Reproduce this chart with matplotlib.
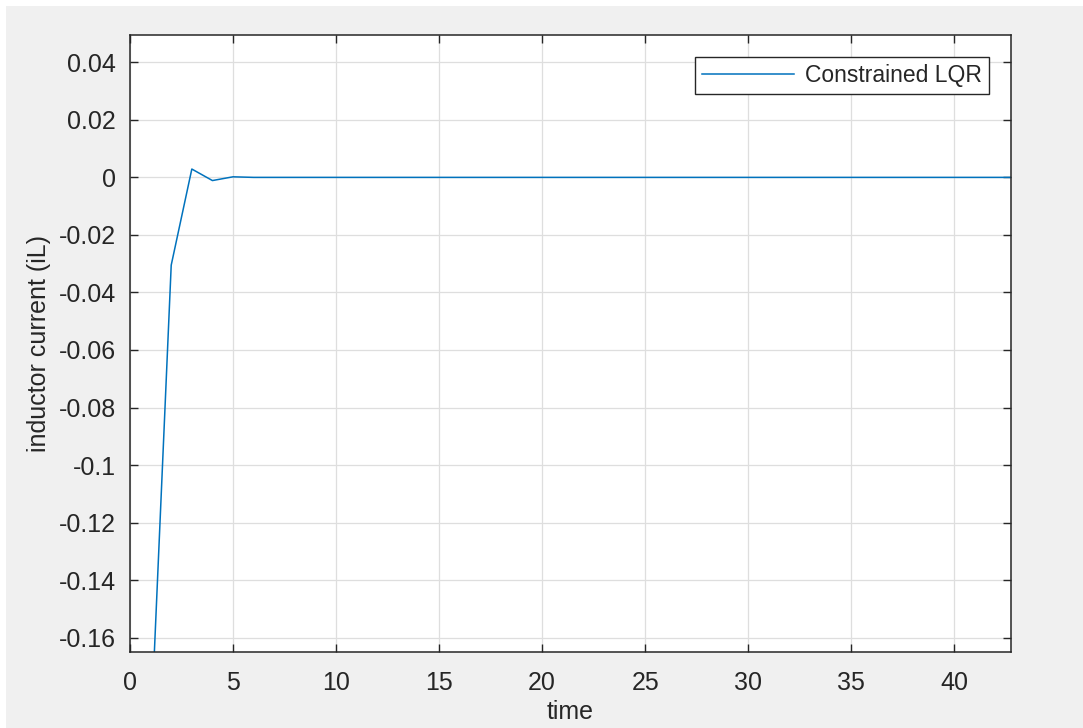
import matplotlib.pyplot as plt
from matplotlib.patches import Rectangle

# sample times and inductor current response
time = list(range(1, 44))
iL = [-0.195, -0.0305, 0.0029, -0.0011, 0.0002,
      0.0, 0.0, 0.0, 0.0, 0.0, 0.0, 0.0, 0.0, 0.0, 0.0,
      0.0, 0.0, 0.0, 0.0, 0.0, 0.0, 0.0, 0.0, 0.0, 0.0,
      0.0, 0.0, 0.0, 0.0, 0.0, 0.0, 0.0, 0.0, 0.0, 0.0,
      0.0, 0.0, 0.0, 0.0, 0.0, 0.0, 0.0, 0.0]

x_ticks = [0, 5, 10, 15, 20, 25, 30, 35, 40]
y_ticks = [-0.16, -0.14, -0.12, -0.1, -0.08, -0.06, -0.04, -0.02, 0, 0.02, 0.04]
y_labels = ["-0.16", "-0.14", "-0.12", "-0.1", "-0.08", "-0.06", "-0.04",
            "-0.02", "0", "0.02", "0.04"]

plt.rcParams['font.family'] = ['Liberation Sans', 'DejaVu Sans']

W, H = 1083, 728
fig = plt.figure(figsize=(W / 100, H / 100), dpi=100)
fig.patch.set_facecolor('white')
# grey window background with a thin white margin at top/left
fig.add_artist(Rectangle((6 / W, 0), 1 - 6 / W, 1 - 6 / H, transform=fig.transFigure,
                         facecolor='#f0f0f0', edgecolor='none', zorder=-10))

ax = fig.add_axes([130 / W, (H - 652) / H, 881 / W, 617 / H])
ax.set_facecolor('white')
ax.plot(time, iL, color='#0072BD', lw=1.1, label='Constrained LQR')

ax.set_xlim(0, 42.75)
ax.set_ylim(-0.165, 0.0495)
ax.set_xticks(x_ticks)
ax.set_yticks(y_ticks)
ax.set_yticklabels(y_labels)

ax.grid(True, color='#dedede', lw=0.9)
ax.set_axisbelow(True)
for s in ax.spines.values():
    s.set_color('#262626')
    s.set_linewidth(1.1)
ax.tick_params(direction='in', length=6, width=1, color='#262626',
               top=True, right=True, labelsize=18, labelcolor='#262626')
ax.tick_params(axis='x', pad=14)
ax.tick_params(axis='y', pad=10)

ax.set_xlabel('time', fontsize=18, color='#262626', labelpad=3)
ax.set_ylabel('inductor current (iL)', fontsize=18, color='#262626', labelpad=6)

leg = ax.legend(loc='upper right', fontsize=16.5, fancybox=False, framealpha=1,
                edgecolor='#262626', handlelength=4.0, borderpad=0.3,
                borderaxespad=0.95, handletextpad=0.5)
leg.get_frame().set_linewidth(1.0)
for t in leg.get_texts():
    t.set_color('#262626')

fig.savefig('out.png', dpi=100, facecolor=fig.get_facecolor())
